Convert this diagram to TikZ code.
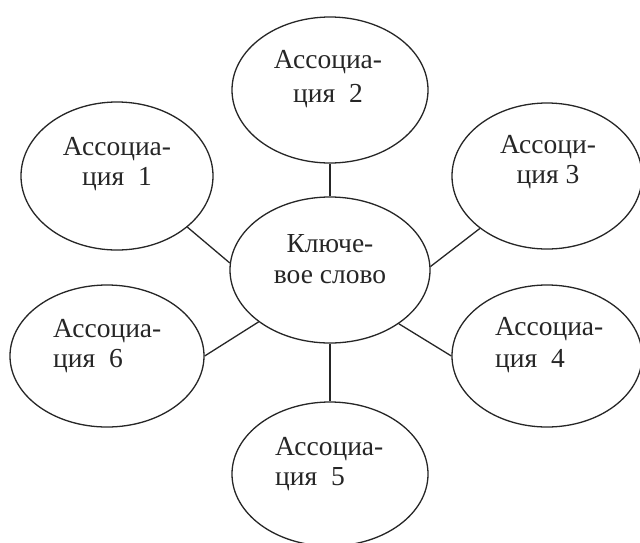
\documentclass[tikz,border=0pt]{standalone}
\usepackage{fontspec}
\setmainfont{Liberation Serif}
\usetikzlibrary{shapes.geometric}
\tikzset{
  ell/.style={draw=black!85, line width=1.3pt, ellipse, inner sep=0pt, fill=white},
  lbl/.style={inner sep=0pt, text=black!85, font=\fontsize{27.5}{32}\selectfont},
  conn/.style={draw=black!85, line width=1.3pt}
}
\begin{document}
\begin{tikzpicture}[x=1pt,y=-1pt]
\useasboundingbox[fill=white] (0,0) rectangle (640,542);
% ellipses
\node[ell, minimum width=200pt, minimum height=146pt] (c)  at (330,270) {};
\node[ell, minimum width=196pt, minimum height=146pt] (a2) at (330,90) {};
\node[ell, minimum width=192pt, minimum height=148pt] (a1) at (117,176) {};
\node[ell, minimum width=190pt, minimum height=146pt] (a3) at (547,176) {};
\node[ell, minimum width=194pt, minimum height=142pt] (a6) at (107,356) {};
\node[ell, minimum width=190pt, minimum height=142pt] (a4) at (547,356) {};
\node[ell, minimum width=196pt, minimum height=144pt] (a5) at (330,474) {};
% connectors
\draw[conn] (c.90) -- (a2.-90);
\draw[conn] (c.-90) -- (a5.90);
\draw[conn] (c.176) -- (a1.-36);
\draw[conn] (c.2) -- (a3.218);
\draw[conn] (c.216) -- (a6.0);
\draw[conn] (c.-38) -- (a4.180);
% labels (anchor=base is the baseline of the last line)
\node[lbl, align=center, anchor=base] (t2) at (328,102) {Ассоциа-\\[2pt]ция\ \ 2};
\node[lbl, align=center, anchor=base] (tc) at (330,283) {Ключе-\\[-1pt]вое слово};
\node[lbl, align=center, anchor=base] (t1) at (117,185) {Ассоциа-\\[-2pt]ция\ \ 1};
\node[lbl, align=center, anchor=base] (t3) at (548,183) {Ассоци-\\[-2pt]ция 3};
\node[lbl, align=left, anchor=base west] (t6) at (53,367) {Ассоциа-\\[-2pt]ция\ \ 6};
\node[lbl, align=left, anchor=base west] (t4) at (495,367) {Ассоциа-\\ция\ \ 4};
\node[lbl, align=left, anchor=base west] (t5) at (275,485) {Ассоциа-\\[-2pt]ция\ \ 5};
\end{tikzpicture}
\end{document}
